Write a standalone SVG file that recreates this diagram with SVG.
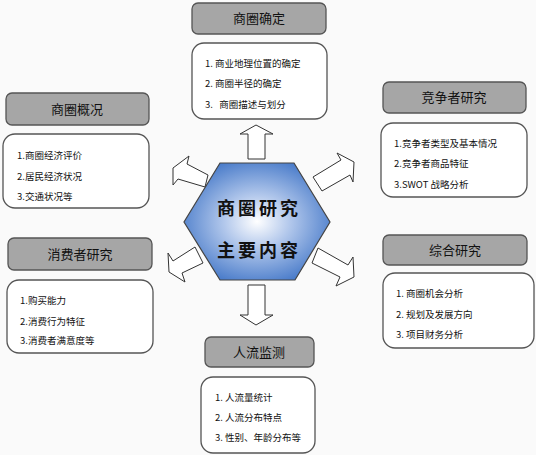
<svg xmlns="http://www.w3.org/2000/svg" width="536" height="455" viewBox="0 0 536 455">
<defs>
<radialGradient id="hexg" cx="0.5" cy="0.5" r="0.55">
<stop offset="0" stop-color="#ffffff"/>
<stop offset="0.4" stop-color="#b4c9ec"/>
<stop offset="1" stop-color="#4a7cca"/>
</radialGradient>
<style>
.title{fill:#a6a6a6;stroke:#555;stroke-width:1.3}
.box{fill:#ffffff;stroke:#555;stroke-width:1.3}
.tt{font-family:"Noto Sans CJK SC","Liberation Sans",sans-serif;font-size:13px;fill:#111;text-anchor:middle}
.it{font-family:"Noto Sans CJK SC","Liberation Sans",sans-serif;font-size:9.5px;fill:#111}
.arr{fill:#ffffff;stroke:#333;stroke-width:1}
.hx{font-family:"Noto Sans CJK SC","Liberation Sans",sans-serif;font-size:18px;font-weight:bold;fill:#111;letter-spacing:3px}
</style>
</defs>
<rect x="0" y="0" width="536" height="455" fill="#fafafa"/>

<g id="connectors">
<polygon class="arr" points="256,125 273,134 265,134 265,159 248,159 248,134 240,134"/>
<polygon class="arr" points="248,285 265,285 265,315 273,315 256,325 240,315 248,315"/>
<polygon class="arr" points="189,156 187,164 208,175 205,187 178,179 173,185 173,168"/>
<polygon class="arr" points="313,177 341,160 337,153 354,162 353,182 350,175 322,191"/>
<polygon class="arr" points="195,247 203,263 182,273 185,282 169,272 168,253 173,261"/>
<polygon class="arr" points="318,248 348,265 353,257 354,277 336,286 340,277 312,263"/>
</g>

<g id="center">
<polygon points="220,163 294,163 330,222 295,280 220,280 184,222" fill="url(#hexg)" stroke="#444" stroke-width="1.2"/>
<text class="hx" x="217" y="215">商圈研究</text>
<text class="hx" x="217" y="257">主要内容</text>
</g>

<g id="node-top">
<rect class="title" x="192" y="3" width="134" height="31" rx="6"/>
<text class="tt" x="259" y="23">商圈确定</text>
<rect class="box" x="192" y="43" width="135" height="76" rx="12"/>
<text class="it" x="205" y="67">1. 商业地理位置的确定</text>
<text class="it" x="205" y="87">2. 商圈半径的确定</text>
<text class="it" x="205" y="108">3.&#160;&#160;&#160;商圈描述与划分</text>
</g>

<g id="node-left-top">
<rect class="title" x="6" y="93" width="143" height="32" rx="6"/>
<text class="tt" x="77" y="114">商圈概况</text>
<rect class="box" x="3" y="134" width="146" height="74" rx="12"/>
<text class="it" x="17" y="159">1.商圈经济评价</text>
<text class="it" x="17" y="180">2.居民经济状况</text>
<text class="it" x="17" y="200">3.交通状况等</text>
</g>

<g id="node-right-top">
<rect class="title" x="383" y="82" width="143" height="31" rx="6"/>
<text class="tt" x="454" y="102">竞争者研究</text>
<rect class="box" x="381" y="123" width="146" height="74" rx="12"/>
<text class="it" x="394" y="147">1.竞争者类型及基本情况</text>
<text class="it" x="394" y="167">2.竞争者商品特征</text>
<text class="it" x="394" y="188">3.SWOT 战略分析</text>
</g>

<g id="node-left-bottom">
<rect class="title" x="8" y="238" width="144" height="32" rx="6"/>
<text class="tt" x="80" y="259">消费者研究</text>
<rect class="box" x="7" y="280" width="146" height="73" rx="12"/>
<text class="it" x="20" y="304">1.购买能力</text>
<text class="it" x="20" y="325">2.消费行为特征</text>
<text class="it" x="20" y="344">3.消费者满意度等</text>
</g>

<g id="node-right-bottom">
<rect class="title" x="383" y="235" width="144" height="30" rx="6"/>
<text class="tt" x="455" y="255">综合研究</text>
<rect class="box" x="383" y="273" width="151" height="75" rx="12"/>
<text class="it" x="396" y="297">1. 商圈机会分析</text>
<text class="it" x="396" y="318">2. 规划及发展方向</text>
<text class="it" x="396" y="338">3. 项目财务分析</text>
</g>

<g id="node-bottom">
<rect class="title" x="205" y="337" width="109" height="30" rx="6"/>
<text class="tt" x="259" y="357">人流监测</text>
<rect class="box" x="201" y="377" width="114" height="76" rx="12"/>
<text class="it" x="215" y="401">1. 人流量统计</text>
<text class="it" x="215" y="421">2. 人流分布特点</text>
<text class="it" x="215" y="441">3. 性别、年龄分布等</text>
</g>
</svg>
